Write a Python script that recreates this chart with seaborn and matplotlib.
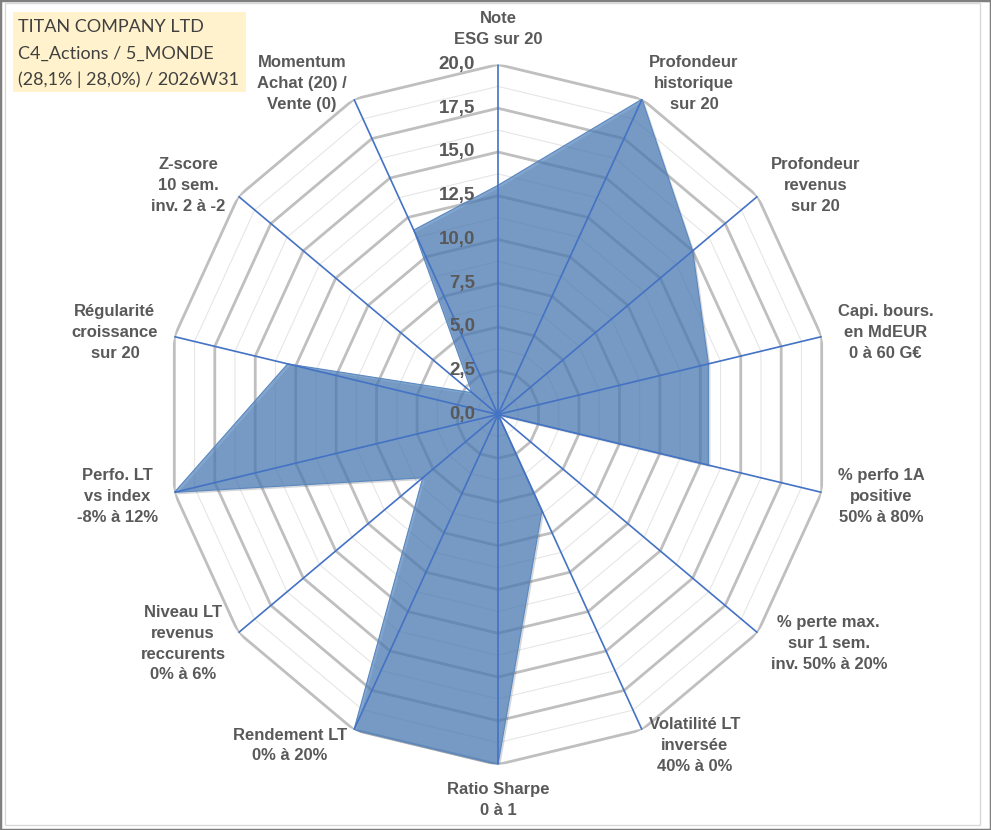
import numpy as np
import pandas as pd
import matplotlib
matplotlib.use("Agg")
import matplotlib.pyplot as plt
import matplotlib.patheffects as pe
from matplotlib.patches import Rectangle
import seaborn as sns

# ---------------- data ----------------
categories = [
    "Note\nESG sur 20",
    "Profondeur\nhistorique\nsur 20",
    "Profondeur\nrevenus\nsur 20",
    "Capi. bours.\nen MdEUR\n0 à 60 G€",
    "% perfo 1A\npositive\n50% à 80%",
    "% perte max.\nsur 1 sem.\ninv. 50% à 20%",
    "Volatilité LT\ninversée\n40% à 0%",
    "Ratio Sharpe\n0 à 1",
    "Rendement LT\n0% à 20%",
    "Niveau LT\nrevenus\nreccurents\n0% à 6%",
    "Perfo. LT\nvs index\n-8% à 12%",
    "Régularité\ncroissance\nsur 20",
    "Z-score\n10 sem.\ninv. 2 à -2",
    "Momentum\nAchat (20) /\nVente (0)",
]
values = [13.1, 20.0, 15.0, 13.0, 13.0, 0.0, 6.1, 20.0, 20.0, 5.8, 20.0, 13.0, 2.0, 11.7]
radial_ticks = [0.0, 2.5, 5.0, 7.5, 10.0, 12.5, 15.0, 17.5, 20.0]
radial_tick_labels = ["0,0", "2,5", "5,0", "7,5", "10,0", "12,5", "15,0", "17,5", "20,0"]
minor_levels = [1.25, 3.75, 6.25, 8.75, 11.25, 13.75, 16.25, 18.75]
title_lines = ["TITAN COMPANY LTD", "C4_Actions / 5_MONDE", "(28,1% | 28,0%) / 2026W31"]

# ---------------- style ----------------
sns.set_theme(style="white")
plt.rcParams["font.family"] = ["Liberation Sans", "DejaVu Sans"]

W, H = 991, 830
fig = plt.figure(figsize=(W / 100, H / 100), dpi=100)
fig.patch.set_facecolor("white")

cx, cy = 498, 414.5      # centre in pixels (from top-left)
rx, ry = 332, 350        # radius of the 20 ring in x / y pixels
ax = fig.add_axes([(cx - rx) / W, (H - (cy + ry)) / H, 2 * rx / W, 2 * ry / H],
                  projection="polar")
ax.set_aspect("auto")
ax.set_theta_zero_location("N")
ax.set_theta_direction(-1)
ax.set_ylim(0, 20)
ax.grid(False)
ax.spines["polar"].set_visible(False)
ax.set_xticks([])
ax.set_yticks([])
ax.set_facecolor("none")

n = len(categories)
theta = np.linspace(0, 2 * np.pi, n, endpoint=False)
theta_c = np.append(theta, theta[0])

# polygon grid
for r in minor_levels:
    ax.plot(theta_c, [r] * (n + 1), color="#E6E6E6", lw=0.8, zorder=1)
for r in radial_ticks[1:]:
    ax.plot(theta_c, [r] * (n + 1), color="#BFBFBF", lw=2.0, zorder=1,
            solid_joinstyle="miter")

# data area
vals_c = np.append(values, values[0])
ax.fill(theta_c, vals_c, color="#4E80BA", alpha=0.70, lw=0, zorder=2,
        path_effects=[pe.SimplePatchShadow(offset=(1.5, -1.5), alpha=0.18), pe.Normal()])
df = pd.DataFrame({"theta": theta_c, "r": vals_c})
sns.lineplot(data=df, x="theta", y="r", sort=False, estimator=None, ax=ax,
             color="#5A88C0", lw=0.8, zorder=3)
ax.set_xlabel("")
ax.set_ylabel("")

# spokes
for t in theta:
    ax.plot([t, t], [0, 20], color="#4472C4", lw=1.2, zorder=4)

# radial tick labels
for v, lab in zip(radial_ticks, radial_tick_labels):
    ax.annotate(lab, xy=(0, v), xytext=(-16.5, 0), textcoords="offset points",
                ha="right", va="center", fontsize=13.5, fontweight="bold",
                color="#595959", zorder=5)

# category labels
for t, lab in zip(theta, categories):
    s, c = np.sin(t), np.cos(t)
    ha = "left" if s > 0.05 else ("right" if s < -0.05 else "center")
    if c > 0.95:
        va = "bottom"
    elif c < -0.95:
        va = "top"
    else:
        va = "center"
    ax.text(t, 21.0, lab, ha=ha, va=va, multialignment="center",
            fontsize=12, fontweight="bold", color="#595959", linespacing=1.48,
            zorder=5)

# title box
fig.patches.append(Rectangle((13 / W, 1 - 92 / H), (246 - 13) / W, (92 - 12) / H,
                             transform=fig.transFigure, facecolor="#FFF2CC",
                             edgecolor="none", zorder=0))
for i, line in enumerate(title_lines):
    fig.text(18 / W, 1 - (27 + 26.3 * i) / H, line, ha="left", va="center",
             fontsize=13.0, color="#404040", family=["Lato", "DejaVu Sans"])

# frames
fig.patches.append(Rectangle((5 / W, 1 - 825 / H), (980 - 5) / W, (825 - 3) / H,
                             transform=fig.transFigure, facecolor="none",
                             edgecolor="#D9D9D9", lw=1, zorder=0))
fig.patches.append(Rectangle((0, 0), 1, 1, transform=fig.transFigure,
                             facecolor="none", edgecolor="#7F7F7F", lw=2.5, zorder=10))

fig.savefig("out.png", dpi=100)
